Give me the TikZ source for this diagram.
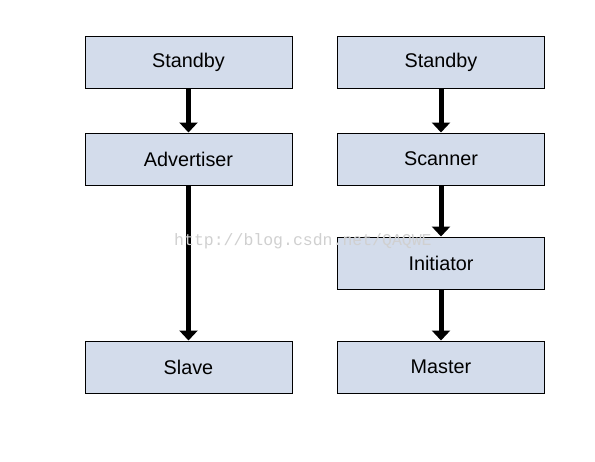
\documentclass[tikz,border=0pt]{standalone}
\usepackage{fontspec}
\setmainfont{Liberation Sans}
\newfontfamily\wmfont{Liberation Mono}
\usetikzlibrary{arrows.meta}
\definecolor{boxfill}{HTML}{D3DCEB}
\definecolor{wmgray}{HTML}{D0D0D0}
\tikzset{
  statebox/.style={draw=black, line width=1pt, fill=boxfill, minimum width=207pt, minimum height=52pt, inner sep=0pt, font=\fontsize{19.8}{22}\selectfont},
  flow/.style={line width=5pt, -{Triangle[width=18pt,length=10pt]}, shorten >=0pt},
}
\begin{document}
\begin{tikzpicture}[x=1pt,y=-1pt]
\useasboundingbox (0,0) rectangle (595,461);
\fill[white] (0,0) rectangle (595,461);
\node[statebox] (ls) at (188.5,62) {Standby};
\node[statebox] (la) at (188.5,159) {Advertiser};
\node[statebox] (lv) at (188.5,367) {Slave};
\node[statebox] (rs) at (441,62) {Standby};
\node[statebox] (rc) at (441,159) {Scanner};
\node[statebox] (ri) at (441,263) {Initiator};
\node[statebox] (rm) at (441,367) {Master};
\draw[flow] (ls) -- (la);
\draw[flow] (la) -- (lv);
\draw[flow] (rs) -- (rc);
\draw[flow] (rc) -- (ri);
\draw[flow] (ri) -- (rm);
\node[text=wmgray, font=\wmfont\fontsize{16.5}{18}\selectfont, anchor=west, inner sep=0pt] (wm) at (174,241) {http://blog.csdn.net/QAQWE};
\end{tikzpicture}
\end{document}
